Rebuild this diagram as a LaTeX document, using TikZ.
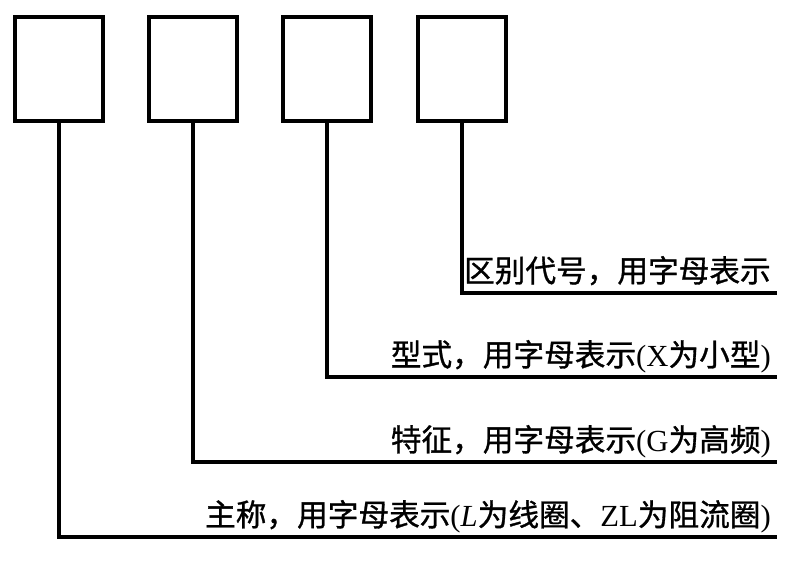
\documentclass[tikz,border=0pt]{standalone}
\usepackage{fontspec}
\setmainfont{Liberation Serif}
\newfontfamily\cjk[FakeBold=1]{Noto Sans CJK SC}
\usetikzlibrary{positioning}
\newcommand{\lat}[1]{{\rmfamily #1}}

\begin{document}
\begin{tikzpicture}[x=0.75pt, y=-0.75pt,
    codebox/.style={draw, line width=3.2pt, minimum width=65.8pt, minimum height=78pt, inner sep=0pt},
    conn/.style={line width=2.5pt},
    lbl/.style={inner sep=0pt, anchor=base east, font=\cjk\fontsize{23}{23}\selectfont}]
    \useasboundingbox (0,0) rectangle (810,561);
    % the four code boxes
    \foreach \i/\x in {1/59,2/193,3/327,4/462} {
      \node[codebox] (b\i) at (\x,69) {};
    }
    % ends of the leader lines
    \coordinate (e4) at (777,293);
    \coordinate (e3) at (777,377);
    \coordinate (e2) at (777,462);
    \coordinate (e1) at (777,537);
    \foreach \i in {1,...,4} {
      \draw[conn] (b\i.south) |- (e\i);
    }
    \node[lbl] (t4) at (771,282) {区别代号，用字母表示};
    \node[lbl] (t3) at (771,366) {型式，用字母表示\lat{(X}为小型\lat{)}};
    \node[lbl] (t2) at (771,451) {特征，用字母表示\lat{(G}为高频\lat{)}};
    \node[lbl] (t1) at (771,526) {主称，用字母表示\lat{(\textit{L}}为线圈、\lat{ZL}为阻流圈\lat{)}};
  \end{tikzpicture}
\end{document}
